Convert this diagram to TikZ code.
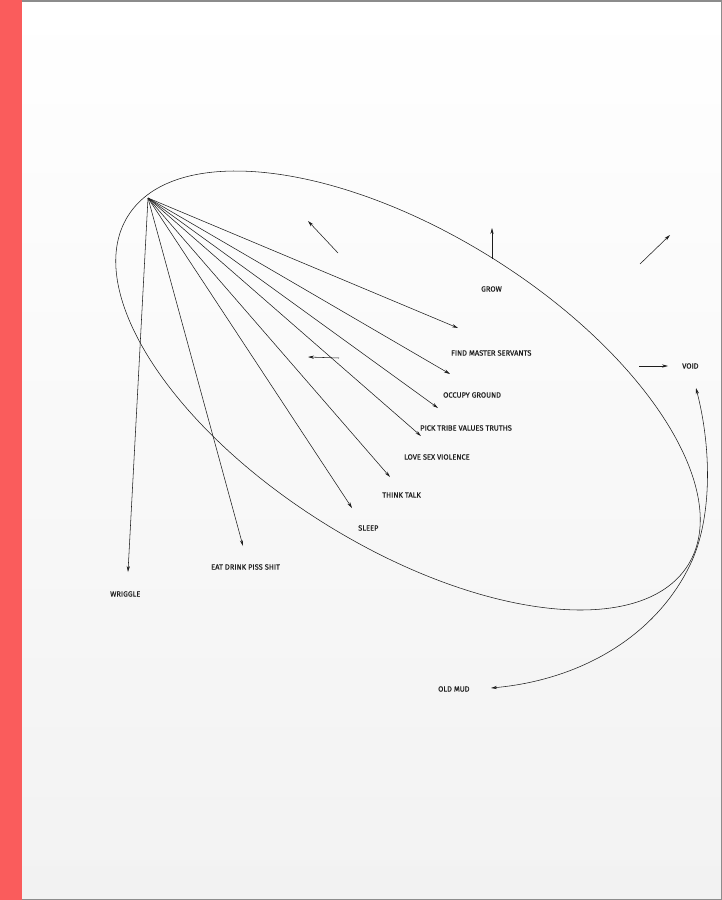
\documentclass[tikz,border=0pt]{standalone}
\usepackage{fontspec}
\newfontfamily\lblfont{Fira Sans}[FakeBold=0.5]
\usetikzlibrary{arrows.meta}
\definecolor{spine}{RGB}{250,92,92}
\definecolor{paper}{RGB}{242,242,242}
\definecolor{frame}{RGB}{140,140,140}
\definecolor{ink}{RGB}{30,30,30}
\tikzset{
  lbl/.style={anchor=west, inner sep=0pt, font=\lblfont\fontsize{7.5}{8}\selectfont, text=ink},
  arr/.style={draw=ink, line width=0.55pt, -{Stealth[length=6pt,width=3.2pt]}},
  darr/.style={draw=ink, line width=0.55pt, {Stealth[length=6pt,width=3.2pt]}-{Stealth[length=6pt,width=3.2pt]}},
  ring/.style={draw=ink, line width=0.55pt}
}
\begin{document}
\begin{tikzpicture}[x=1pt,y=-1pt]
\useasboundingbox (0,0) rectangle (722,900);
% paper
\shade[top color=white, bottom color=paper] (0,0) rectangle (722,900);
\draw[frame, line width=1.5pt] (0,0.75) -- (721.25,0.75) -- (721.25,899.25) -- (0,899.25);
\fill[spine] (0,0) rectangle (22,900);

% ellipse
\draw[ring, shift={(408,390.5)}, rotate=-31.9] (0,0) ellipse [x radius=330pt, y radius=157pt];

% hub
\coordinate (hub) at (148,198);

% labels
\node[lbl] (fms) at (451,353) {FIND MASTER SERVANTS};
\node[lbl] (og)  at (443,395) {OCCUPY GROUND};
\node[lbl] (pt)  at (420,428) {PICK TRIBE VALUES TRUTHS};
\node[lbl] (lsv) at (404,457) {LOVE SEX VIOLENCE};
\node[lbl] (tt)  at (382,495) {THINK TALK};
\node[lbl] (sl)  at (358,528) {SLEEP};
\node[lbl] (ed)  at (211,567) {EAT DRINK PISS SHIT};
\node[lbl] (wr)  at (110,594) {WRIGGLE};
\node[lbl] (gr)  at (481,289) {GROW};
\node[lbl] (vo)  at (682,366) {VOID};
\node[lbl] (om)  at (438,689) {OLD MUD};

% arrow tips
\coordinate (tfms) at (458,328);
\coordinate (tog)  at (450,374);
\coordinate (tpt)  at (438,408);
\coordinate (tlsv) at (421,436);
\coordinate (ttt)  at (390,477);
\coordinate (tsl)  at (352,508);
\coordinate (ted)  at (243,546);
\coordinate (twr)  at (128,572);

\foreach \t in {tfms,tog,tpt,tlsv,ttt,tsl,ted,twr}
  \draw[arr] (hub) -- (\t);

% free arrows
\coordinate (g0) at (492,259); \coordinate (g1) at (492,228);
\draw[arr] (g0) -- (g1);
\coordinate (a0) at (338,253); \coordinate (a1) at (308,221);
\draw[arr] (a0) -- (a1);
\coordinate (b0) at (640,264); \coordinate (b1) at (670,235);
\draw[arr] (b0) -- (b1);
\coordinate (c0) at (339,358); \coordinate (c1) at (308,357);
\draw[arr] (c0) -- (c1);
\coordinate (v0) at (639,366); \coordinate (v1) at (668,366);
\draw[arr] (v0) -- (v1);

% old mud / void curve
\coordinate (cv0) at (696,388);
\coordinate (cvm) at (690,565);
\coordinate (cv1) at (491,688);
\draw[darr] (cv0) .. controls (712,450) and (712,520) .. (cvm)
                  .. controls (655,637) and (580,680) .. (cv1);
\end{tikzpicture}
\end{document}
